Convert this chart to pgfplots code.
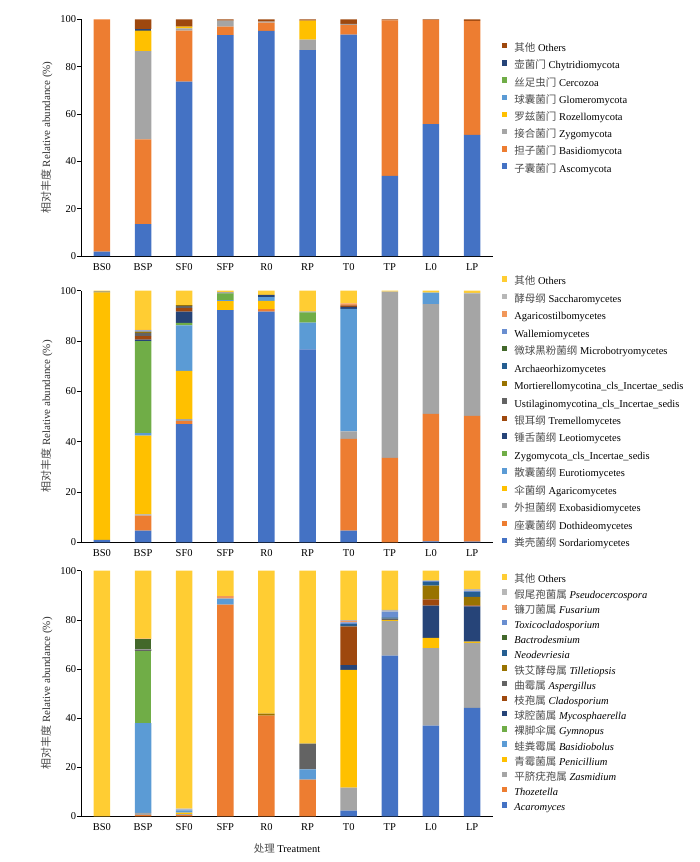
\documentclass[border=0pt]{standalone}
\usepackage{fontspec}
\setmainfont{Liberation Serif}
\newfontfamily\cjk{Noto Sans CJK SC}
\usepackage{pgfplots}
\usepackage{pgfplotstable}
\pgfplotsset{compat=1.18}

\definecolor{c1}{HTML}{4472C4}
\definecolor{c2}{HTML}{ED7D31}
\definecolor{c3}{HTML}{A5A5A5}
\definecolor{c4}{HTML}{FFC000}
\definecolor{c5}{HTML}{5B9BD5}
\definecolor{c6}{HTML}{70AD47}
\definecolor{c7}{HTML}{264478}
\definecolor{c8}{HTML}{9E480E}
\definecolor{c9}{HTML}{636363}
\definecolor{c10}{HTML}{997300}
\definecolor{c11}{HTML}{255E91}
\definecolor{c12}{HTML}{43682B}
\definecolor{c13}{HTML}{698ED0}
\definecolor{c14}{HTML}{F1975A}
\definecolor{c15}{HTML}{B7B7B7}
\definecolor{c16}{HTML}{FFCD33}

\newcommand\zh[1]{{\cjk\color{black!70}#1}}
\newcommand\seg[4]{\addplot[fill=#1,draw=none] table[x=x,y=#2]{#3}; \addlegendentry{#4}}

% phylum
\pgfplotstableread{
x Asco Basid Zygo Roz Glom Cerc Chyt Oth
0 1.8 98.2 0 0 0 0 0 0
1 13.5 35.8 37.3 8.6 0 0 0.6 4.2
2 73.7 21.5 1.0 0.7 0 0 0 3.1
3 93.3 3.6 2.5 0 0 0 0 0.6
4 95.1 3.5 0.4 0 0 0 0 1.0
5 87.0 0 4.4 8.0 0 0 0 0.6
6 93.5 4.1 0.5 0 0 0 0 1.9
7 33.9 65.6 0 0 0 0 0 0.5
8 55.7 43.9 0 0 0 0 0 0.4
9 51.2 48.1 0 0 0 0 0 0.7
}\tabA

% class
\pgfplotstableread{
x Sord Doth Exob Agar Euro Zcls Leot Trem Ustil Mort Arch Micr Wall Agst Sacc Oth
0 1.0 0 0 98.3 0 0 0.3 0 0 0 0 0 0 0 0 0.4
1 4.6 6.0 0.5 31.3 1.0 36.6 0.6 1.3 1.3 0.5 0 0 0.5 0.2 0 15.6
2 47.0 1.2 0.8 19.1 18.1 1.0 4.5 1.4 0.9 0.3 0 0 0 0 0 5.7
3 92.3 0 0 3.6 0.4 2.6 0 0 0.3 0 0 0 0 0 0.2 0.6
4 91.7 1.0 0 3.3 1.4 0 0.9 0 0 0 0 0 0 0 0 1.7
5 76.7 0 0 0 10.6 4.1 0 0 0 0 0 0 0.3 0 0 8.3
6 4.6 36.5 3.0 0 48.7 0 0.8 0.6 0 0 0 0 0 0.8 0 5.0
7 0 33.6 66.0 0 0 0 0 0 0 0 0 0 0 0 0 0.4
8 0.4 50.6 43.7 0 4.5 0 0 0 0 0 0 0 0 0 0 0.8
9 0.3 50.0 48.6 0 0 0 0 0 0 0 0 0 0 0 0.2 0.9
}\tabB

% genus
\pgfplotstableread{
x Acar Thoz Zasm Peni Basi Gymn Myco Clad Aspe Till Neod Bact Toxi Fusa Pseu Oth
0 0 0 0 0 0 0 0 0 0 0 0 0 0 0 0 100
1 0 0.5 0.9 0 36.5 29.5 0 0 0.6 0 0 4.0 0 0.3 0 27.7
2 0 0.5 0.4 0.6 0.9 0 0 0 0 0 0 0 0.3 0 0.4 96.9
3 0 86.2 0 0 2.4 0 0 0 0 0 0 0 0 1.1 0 10.3
4 0 41.0 0 0 0 0 0 0 0 0.8 0 0 0 0 0 58.2
5 0 14.9 0 0 4.2 0 0 0 10.5 0 0 0 0 0 0 70.4
6 2.3 0 9.4 47.9 0 0 2.0 15.6 0.3 0 0.8 0 0.7 0.6 0.3 20.1
7 65.4 0 14.2 0.3 0 0 0 0 0.6 0 0.5 0 2.3 0 0.8 15.9
8 36.9 0 31.6 4.2 0 0 13.1 2.5 0 5.6 1.6 0 0.5 0 0 4.0
9 44.2 0 26.4 0.5 0 0 14.4 0.4 0 3.4 2.0 0 0.4 0 0.8 7.5
}\tabC

\pgfplotsset{
  panel/.style={
    scale only axis, width=411.4pt,
    ybar stacked, bar width=16.5pt,
    xmin=-0.5, xmax=9.5, ymin=0, ymax=100,
    axis lines*=left, axis line style={-,line width=0.7pt},
    xtick={0,...,9}, xticklabels={BS0,BSP,SF0,SFP,R0,RP,T0,TP,L0,LP},
    ytick={0,20,...,100},
    tick align=outside, major tick length=4pt,
    xtick style={draw=none}, ytick style={line width=0.6pt,black},
    tick label style={font=\fontsize{10.5}{12}\selectfont},
    yticklabel style={inner sep=1pt},
    /pgf/number format/assume math mode=true,
    ylabel={\zh{相对丰度} Relative abundance (\%)},
    ylabel style={at={(axis description cs:-0.084,0.5)},anchor=center,
      font=\fontsize{11}{12}\selectfont,color=black!80},
    legend cell align=left, reverse legend,
    legend image code/.code={\fill[##1] (0pt,0.8pt) rectangle (5.4pt,6.2pt);},
    legend style={draw=none,fill=none,inner sep=0pt,outer sep=0pt,anchor=north west,
      font=\fontsize{10.5}{12}\selectfont,
      nodes={inner sep=0pt,text height=7pt,text depth=2pt},
      /tikz/every odd column/.append style={column sep=7pt}},
  }
}

\begin{document}
\begin{tikzpicture}

\begin{axis}[panel, height=236.7pt, at={(0pt,-256pt)}, anchor=south west,
  legend style={at={(1.0226,0.900)},row sep=6.5pt}]
\seg{c1}{Asco}{\tabA}{\zh{子囊菌门} Ascomycota}
\seg{c2}{Basid}{\tabA}{\zh{担子菌门} Basidiomycota}
\seg{c3}{Zygo}{\tabA}{\zh{接合菌门} Zygomycota}
\seg{c4}{Roz}{\tabA}{\zh{罗兹菌门} Rozellomycota}
\seg{c5}{Glom}{\tabA}{\zh{球囊菌门} Glomeromycota}
\seg{c6}{Cerc}{\tabA}{\zh{丝足虫门} Cercozoa}
\seg{c7}{Chyt}{\tabA}{\zh{壶菌门} Chytridiomycota}
\seg{c8}{Oth}{\tabA}{\zh{其他} Others}
\node[font=\fontsize{10.5}{12}\selectfont] at (rel axis cs:-0.086,1.028) {A};
\end{axis}

\begin{axis}[panel, height=251.6pt, at={(0pt,-542.3pt)}, anchor=south west,
  legend style={at={(1.0226,1.0576)},row sep=6.75pt}]
\seg{c1}{Sord}{\tabB}{\zh{粪壳菌纲} Sordariomycetes}
\seg{c2}{Doth}{\tabB}{\zh{座囊菌纲} Dothideomycetes}
\seg{c3}{Exob}{\tabB}{\zh{外担菌纲} Exobasidiomycetes}
\seg{c4}{Agar}{\tabB}{\zh{伞菌纲} Agaricomycetes}
\seg{c5}{Euro}{\tabB}{\zh{散囊菌纲} Eurotiomycetes}
\seg{c6}{Zcls}{\tabB}{Zygomycota\_cls\_Incertae\_sedis}
\seg{c7}{Leot}{\tabB}{\zh{锤舌菌纲} Leotiomycetes}
\seg{c8}{Trem}{\tabB}{\zh{银耳纲} Tremellomycetes}
\seg{c9}{Ustil}{\tabB}{Ustilaginomycotina\_cls\_Incertae\_sedis}
\seg{c10}{Mort}{\tabB}{Mortierellomycotina\_cls\_Incertae\_sedis}
\seg{c11}{Arch}{\tabB}{Archaeorhizomycetes}
\seg{c12}{Micr}{\tabB}{\zh{微球黑粉菌纲} Microbotryomycetes}
\seg{c13}{Wall}{\tabB}{Wallemiomycetes}
\seg{c14}{Agst}{\tabB}{Agaricostilbomycetes}
\seg{c15}{Sacc}{\tabB}{\zh{酵母纲} Saccharomycetes}
\seg{c16}{Oth}{\tabB}{\zh{其他} Others}
\node[font=\fontsize{10.5}{12}\selectfont] at (rel axis cs:-0.086,1.031) {B};
\end{axis}

\begin{axis}[panel, height=245.6pt, at={(0pt,-816.3pt)}, anchor=south west,
  xlabel={\zh{处理} Treatment},
  xlabel style={at={(axis description cs:0.5,-0.130)},anchor=center,
    font=\fontsize{10.5}{12}\selectfont},
  legend style={at={(1.0226,0.9857)},row sep=4.5pt}]
\seg{c1}{Acar}{\tabC}{\textit{Acaromyces}}
\seg{c2}{Thoz}{\tabC}{\textit{Thozetella}}
\seg{c3}{Zasm}{\tabC}{\zh{平脐疣孢属} \textit{Zasmidium}}
\seg{c4}{Peni}{\tabC}{\zh{青霉菌属} \textit{Penicillium}}
\seg{c5}{Basi}{\tabC}{\zh{蛙粪霉属} \textit{Basidiobolus}}
\seg{c6}{Gymn}{\tabC}{\zh{裸脚伞属} \textit{Gymnopus}}
\seg{c7}{Myco}{\tabC}{\zh{球腔菌属} \textit{Mycosphaerella}}
\seg{c8}{Clad}{\tabC}{\zh{枝孢属} \textit{Cladosporium}}
\seg{c9}{Aspe}{\tabC}{\zh{曲霉属} \textit{Aspergillus}}
\seg{c10}{Till}{\tabC}{\zh{铁艾酵母属} \textit{Tilletiopsis}}
\seg{c11}{Neod}{\tabC}{\textit{Neodevriesia}}
\seg{c12}{Bact}{\tabC}{\textit{Bactrodesmium}}
\seg{c13}{Toxi}{\tabC}{\textit{Toxicocladosporium}}
\seg{c14}{Fusa}{\tabC}{\zh{镰刀菌属} \textit{Fusarium}}
\seg{c15}{Pseu}{\tabC}{\zh{假尾孢菌属} \textit{Pseudocercospora}}
\seg{c16}{Oth}{\tabC}{\zh{其他} Others}
\node[font=\fontsize{10.5}{12}\selectfont] at (rel axis cs:-0.086,1.035) {C};
\end{axis}

\pgfresetboundingbox
\path[use as bounding box] (-81.3pt,0pt) rectangle (617.7pt,-862pt);
\end{tikzpicture}
\end{document}
